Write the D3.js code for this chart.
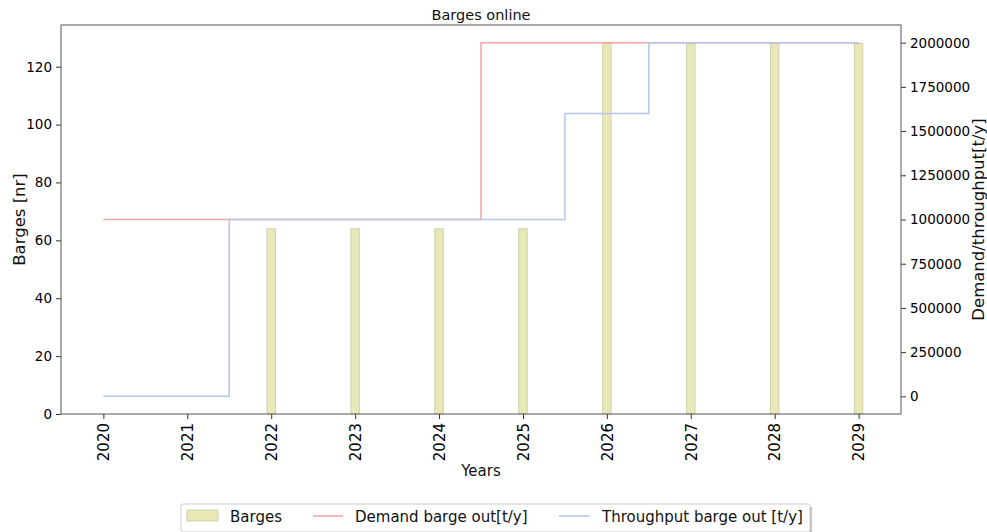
<!DOCTYPE html>
<html>
<head>
<meta charset="utf-8">
<script src="https://cdn.jsdelivr.net/npm/d3@7"></script>
<style>
  html, body { margin: 0; padding: 0; background: #fff; }
  svg { display: block; font-family: "DejaVu Sans", sans-serif; }
</style>
</head>
<body>
<svg id="chart" width="987" height="532"></svg>
<script>
// Yearly series
const years = [2020, 2021, 2022, 2023, 2024, 2025, 2026, 2027, 2028, 2029];
const barges = [0, 0, 64, 64, 64, 64, 128, 128, 128, 128];
const demand = [1000000, 1000000, 1000000, 1000000, 1000000, 2000000, 2000000, 2000000, 2000000, 2000000];
const throughput = [0, 0, 1000000, 1000000, 1000000, 1000000, 1600000, 2000000, 2000000, 2000000];
const leftTicks = [0, 20, 40, 60, 80, 100, 120];
const rightTicks = [0, 250000, 500000, 750000, 1000000, 1250000, 1500000, 1750000, 2000000];

const colors = { bar: "#e9e9b7", barEdge: "#cfcfae", demand: "#f7a3a3", throughput: "#b2c8e8" };

const svg = d3.select("#chart");
const m = { left: 61, right: 901, top: 25, bottom: 414 };

const x = d3.scaleLinear().domain([2019.495, 2029.505]).range([m.left, m.right]);
const yL = d3.scaleLinear().domain([0, 134.4]).range([m.bottom, m.top]);
const yR = d3.scaleLinear().domain([-100000, 2100000]).range([m.bottom, m.top]);
const barW = 0.1;

// Bars
svg.append("g").selectAll("rect")
  .data(years.map((y, i) => ({ y, v: barges[i] })))
  .join("rect")
  .attr("x", d => x(d.y - barW / 2))
  .attr("width", d => x(d.y + barW / 2) - x(d.y - barW / 2))
  .attr("y", d => yL(d.v))
  .attr("height", d => yL(0) - yL(d.v))
  .attr("fill", colors.bar)
  .attr("stroke", colors.barEdge)
  .attr("stroke-width", d => d.v > 0 ? 1 : 0);

// Step lines (mid steps)
const stepLine = d3.line().x(d => x(d[0])).y(d => yR(d[1])).curve(d3.curveStep);
svg.append("path")
  .datum(years.map((y, i) => [y, demand[i]]))
  .attr("d", stepLine).attr("fill", "none")
  .attr("stroke", colors.demand).attr("stroke-width", 1.5);
svg.append("path")
  .datum(years.map((y, i) => [y, throughput[i]]))
  .attr("d", stepLine).attr("fill", "none")
  .attr("stroke", colors.throughput).attr("stroke-width", 1.5);

// Axes
const tickFont = "13.5px";
const gL = svg.append("g").attr("transform", `translate(${m.left},0)`)
  .call(d3.axisLeft(yL).tickValues(leftTicks).tickSize(5).tickPadding(4));
const gR = svg.append("g").attr("transform", `translate(${m.right},0)`)
  .call(d3.axisRight(yR).tickValues(rightTicks).tickSize(5).tickPadding(4).tickFormat(d3.format("d")));
const gB = svg.append("g").attr("transform", `translate(0,${m.bottom})`)
  .call(d3.axisBottom(x).tickValues(years).tickSize(5).tickFormat(d3.format("d")));
gB.selectAll("text")
  .attr("transform", "rotate(-90)")
  .attr("text-anchor", "end")
  .attr("x", -9).attr("y", 0).attr("dy", "0.35em")
  .style("font-size", "15px");
[gL, gR, gB].forEach(g => {
  g.select(".domain").remove();
  g.selectAll("line").attr("stroke", "#333");
  g.selectAll("text").attr("fill", "#000").style("font-family", "DejaVu Sans");
});
gL.selectAll("text").style("font-size", tickFont);
gR.selectAll("text").style("font-size", tickFont);

// Frame
svg.append("rect")
  .attr("x", m.left).attr("y", m.top)
  .attr("width", m.right - m.left).attr("height", m.bottom - m.top)
  .attr("fill", "none").attr("stroke", "#555").attr("stroke-width", 1);

// Titles and axis labels
svg.append("text").attr("x", (m.left + m.right) / 2).attr("y", 20)
  .attr("text-anchor", "middle").style("font-size", "14.5px").attr("fill", "#111")
  .text("Barges online");
svg.append("text").attr("x", 481).attr("y", 476)
  .attr("text-anchor", "middle").style("font-size", "15px").attr("fill", "#111")
  .text("Years");
svg.append("text").attr("transform", `translate(25,${(m.top + m.bottom) / 2}) rotate(-90)`)
  .attr("text-anchor", "middle").style("font-size", "16.5px").attr("fill", "#111")
  .text("Barges [nr]");
svg.append("text").attr("transform", `translate(984,${(m.top + m.bottom) / 2}) rotate(-90)`)
  .attr("text-anchor", "middle").style("font-size", "16.5px").attr("fill", "#111")
  .text("Demand/throughput[t/y]");

// Legend
const lg = svg.append("g");
lg.append("rect").attr("x", 183).attr("y", 507).attr("width", 629).attr("height", 28)
  .attr("fill", "#888").attr("opacity", 0.5);
lg.append("rect").attr("x", 181).attr("y", 504).attr("width", 629).attr("height", 28)
  .attr("fill", "#fff").attr("stroke", "#ccc").attr("rx", 2);
lg.append("rect").attr("x", 187).attr("y", 510).attr("width", 31).attr("height", 11)
  .attr("fill", colors.bar).attr("stroke", colors.barEdge);
lg.append("text").attr("x", 230).attr("y", 522).style("font-size", "15px").attr("fill", "#111").text("Barges");
lg.append("line").attr("x1", 313).attr("x2", 343).attr("y1", 516).attr("y2", 516)
  .attr("stroke", colors.demand).attr("stroke-width", 1.5);
lg.append("text").attr("x", 355).attr("y", 522).style("font-size", "15px").attr("fill", "#111").text("Demand barge out[t/y]");
lg.append("line").attr("x1", 559).attr("x2", 590).attr("y1", 516).attr("y2", 516)
  .attr("stroke", colors.throughput).attr("stroke-width", 1.5);
lg.append("text").attr("x", 602).attr("y", 522).style("font-size", "15px").attr("fill", "#111").text("Throughput barge out [t/y]");
</script>
</body>
</html>
